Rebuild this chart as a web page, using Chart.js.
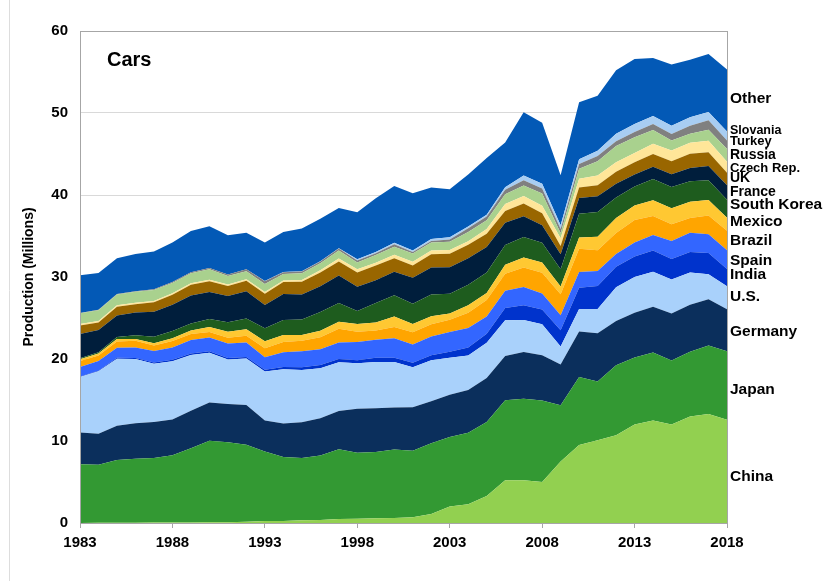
<!DOCTYPE html>
<html>
<head>
<meta charset="utf-8">
<style>
html,body{margin:0;padding:0;background:#fff;}
#wrap{position:relative;width:835px;height:581px;}
canvas{display:block;}
</style>
<script src="https://cdn.jsdelivr.net/npm/chart.js@4.4.1/dist/chart.umd.min.js"></script>
</head>
<body>
<div id="wrap"><canvas id="c" width="835" height="581"></canvas></div>
<script>
// ---------- DATA (millions of cars) ----------
const years = [1983,1984,1985,1986,1987,1988,1989,1990,1991,1992,1993,1994,1995,1996,1997,1998,1999,2000,2001,2002,2003,2004,2005,2006,2007,2008,2009,2010,2011,2012,2013,2014,2015,2016,2017,2018];
const xTickYears = [1983,1988,1993,1998,2003,2008,2013,2018];
const yTicks = [0,10,20,30,40,50,60];

const china   = [0.01,0.02,0.03,0.04,0.05,0.06,0.07,0.08,0.10,0.16,0.23,0.25,0.33,0.38,0.49,0.51,0.57,0.61,0.70,1.10,2.00,2.30,3.30,5.20,5.20,5.00,7.50,9.50,10.10,10.70,12.00,12.50,12.00,13.00,13.30,12.60];
const japan   = [7.15,7.07,7.65,7.81,7.89,8.20,9.05,9.95,9.75,9.38,8.49,7.80,7.61,7.86,8.49,8.06,8.10,8.36,8.12,8.62,8.48,8.72,9.02,9.76,9.94,9.93,6.86,8.31,7.16,8.55,8.19,8.28,7.83,7.87,8.35,8.36];
const germany = [3.88,3.79,4.17,4.31,4.37,4.35,4.56,4.66,4.66,4.86,3.79,4.09,4.36,4.54,4.68,5.35,5.31,5.13,5.30,5.12,5.15,5.19,5.35,5.40,5.71,5.53,4.96,5.55,5.87,5.39,5.44,5.60,5.71,5.75,5.65,5.12];
const us      = [6.78,7.62,8.18,7.83,7.10,7.11,6.82,6.08,5.44,5.67,5.98,6.61,6.35,6.08,5.93,5.55,5.64,5.54,4.88,5.02,4.51,4.23,4.32,4.37,3.92,3.78,2.20,2.73,2.97,4.11,4.37,4.25,4.16,3.93,3.03,2.80];
const india   = [0.05,0.07,0.11,0.13,0.16,0.18,0.18,0.18,0.17,0.16,0.21,0.26,0.33,0.40,0.40,0.39,0.53,0.52,0.55,0.60,0.75,0.95,1.10,1.50,1.80,1.80,2.00,2.60,2.80,2.50,2.50,2.60,2.50,2.50,2.60,2.10];
const spain   = [1.14,1.18,1.23,1.28,1.40,1.50,1.64,1.68,1.77,1.79,1.51,1.82,1.96,1.94,2.01,2.22,2.21,2.37,2.21,2.27,2.40,2.40,2.10,2.08,2.20,1.94,1.81,1.91,1.84,1.54,1.72,1.90,2.20,2.35,2.29,2.27];
const brazil  = [0.75,0.68,0.76,0.82,0.68,0.78,0.73,0.66,0.71,0.82,1.10,1.25,1.30,1.46,1.68,1.25,1.11,1.36,1.50,1.52,1.50,1.86,2.01,2.09,2.39,2.55,2.58,2.83,2.52,2.59,2.74,2.31,2.02,1.78,2.27,2.39];
const mexico  = [0.21,0.24,0.30,0.21,0.28,0.35,0.44,0.61,0.72,0.78,0.84,0.86,0.70,0.80,0.85,0.95,0.99,1.28,1.00,0.96,0.77,0.90,0.85,1.10,1.21,1.24,0.94,1.39,1.66,1.81,1.77,1.92,1.97,1.99,1.90,1.58];
const korea   = [0.12,0.16,0.26,0.46,0.79,0.87,0.85,0.99,1.16,1.31,1.59,1.81,1.89,2.26,2.31,1.58,2.36,2.60,2.47,2.65,2.40,2.50,2.50,2.40,2.50,2.40,2.10,2.90,3.00,2.50,2.30,2.60,2.60,2.50,2.40,2.20];
const france  = [2.96,2.71,2.63,2.77,3.05,3.22,3.41,3.29,3.19,3.33,2.84,3.18,3.05,3.15,3.35,2.95,2.78,2.88,3.18,3.29,3.22,3.23,3.11,2.72,2.55,2.15,1.82,1.92,1.93,1.68,1.46,1.50,1.55,1.63,1.75,1.76];
const uk      = [1.04,0.91,1.05,1.02,1.14,1.23,1.30,1.30,1.24,1.29,1.38,1.47,1.53,1.69,1.70,1.75,1.79,1.64,1.49,1.63,1.66,1.65,1.60,1.44,1.53,1.45,1.00,1.27,1.34,1.46,1.51,1.53,1.59,1.72,1.67,1.52];
const czech   = [0.18,0.18,0.18,0.18,0.17,0.16,0.19,0.19,0.17,0.18,0.22,0.18,0.21,0.26,0.37,0.38,0.35,0.43,0.46,0.44,0.44,0.44,0.60,0.85,0.93,0.93,0.97,1.07,1.19,1.17,1.13,1.25,1.30,1.34,1.41,1.35];
const russia  = [1.32,1.33,1.33,1.33,1.33,1.26,1.22,1.26,1.03,0.96,0.96,0.80,0.83,0.87,0.98,0.84,0.95,0.97,1.02,0.98,1.01,1.11,1.07,1.18,1.29,1.47,0.60,1.21,1.74,1.97,1.92,1.68,1.21,1.12,1.35,1.56];
const turkey  = [0.03,0.05,0.06,0.08,0.11,0.12,0.12,0.17,0.20,0.27,0.35,0.21,0.23,0.21,0.24,0.24,0.22,0.30,0.18,0.20,0.29,0.45,0.45,0.55,0.63,0.62,0.51,0.60,0.64,0.58,0.63,0.73,0.79,0.95,1.14,1.03];
const slovakia= [0.00,0.00,0.00,0.00,0.00,0.00,0.00,0.00,0.00,0.00,0.01,0.01,0.03,0.03,0.04,0.13,0.13,0.18,0.18,0.23,0.28,0.22,0.22,0.30,0.57,0.58,0.46,0.56,0.64,0.93,0.98,0.99,1.00,1.04,1.00,1.09];
const other   = [4.58,4.49,4.36,4.53,4.58,4.81,5.02,5.10,4.79,4.44,4.70,4.90,5.19,5.17,4.88,5.75,6.56,6.93,6.96,6.27,5.84,6.35,6.90,5.46,7.73,7.43,6.09,6.95,6.70,7.72,7.94,7.06,7.47,7.03,7.09,7.57];

const seriesNames = ['China','Japan','Germany','U.S.','India','Spain','Brazil','Mexico','South Korea','France','UK','Czech Rep.','Russia','Turkey','Slovania','Other'];
const seriesValues = [china,japan,germany,us,india,spain,brazil,mexico,korea,france,uk,czech,russia,turkey,slovakia,other];

// right-hand labels: text and anchor value (millions) on the y axis
const labelTexts  = ['Other','Slovania','Turkey','Russia','Czech Rep.','UK','France','South Korea','Mexico','Brazil','Spain','India','U.S.','Germany','Japan','China'];
const labelValues = [51.7,47.8,46.5,44.8,43.3,42.0,40.3,38.8,36.8,34.4,32.0,30.3,27.6,23.3,16.2,5.6];

// ---------- STYLE ----------
const colors = ['#92D050','#339933','#0B2F5C','#A9D1FB','#0033CC','#3366FF','#FFA500','#FFC832','#1E5C1E','#001E3C','#996600','#FFE699','#A9D18E','#808080','#A8CDF2','#0359B6'];
const labelSizes = [15.5,12.5,13,14,13,14,14,15.5,15.5,15.5,15.5,15.5,15.5,15.5,15.5,15.5];
const FONT = "'Liberation Sans', Arial, sans-serif";

const datasets = seriesValues.map((vals, i) => ({
  label: seriesNames[i],
  data: vals.map((v, j) => ({x: years[j], y: v})),
  backgroundColor: colors[i],
  borderColor: colors[i],
  borderWidth: 0,
  pointRadius: 0,
  tension: 0,
  fill: i === 0 ? 'origin' : '-1'
}));

const overlay = {
  id: 'overlay',
  afterDraw(chart) {
    const {ctx, chartArea} = chart;
    const ys = chart.scales.y;
    ctx.save();
    // faint slide frame on the left
    ctx.strokeStyle = '#DDDDDD';
    ctx.lineWidth = 1;
    ctx.beginPath();
    ctx.moveTo(9.5, 0); ctx.lineTo(9.5, chart.height);
    ctx.stroke();
    // plot frame
    ctx.strokeStyle = '#A6A6A6';
    ctx.strokeRect(Math.round(chartArea.left) + 0.5, Math.round(chartArea.top) + 0.5,
                   Math.round(chartArea.right - chartArea.left), Math.round(chartArea.bottom - chartArea.top));
    // title inside plot
    ctx.fillStyle = '#000';
    ctx.font = 'bold 20px ' + FONT;
    ctx.textBaseline = 'middle';
    ctx.textAlign = 'left';
    ctx.fillText('Cars', chartArea.left + 27, chartArea.top + 29);
    // series labels on the right
    labelTexts.forEach((t, i) => {
      ctx.font = 'bold ' + labelSizes[i] + 'px ' + FONT;
      ctx.fillText(t, chartArea.right + 3, ys.getPixelForValue(labelValues[i]));
    });
    ctx.restore();
  }
};

new Chart(document.getElementById('c'), {
  type: 'line',
  data: { datasets },
  plugins: [overlay],
  options: {
    responsive: false,
    animation: false,
    events: [],
    layout: { padding: { left: 0, right: 108, top: 31, bottom: 0 } },
    plugins: { legend: { display: false }, tooltip: { enabled: false } },
    scales: {
      x: {
        type: 'linear',
        min: years[0],
        max: years[years.length - 1],
        afterBuildTicks: s => { s.ticks = xTickYears.map(v => ({ value: v })); },
        afterFit: s => { s.height = 58; },
        grid: { drawOnChartArea: false, drawTicks: true, tickLength: 5, color: '#A6A6A6' },
        border: { display: true, color: '#A6A6A6' },
        ticks: { autoSkip: false, maxRotation: 0, padding: 6, color: '#000',
                 font: { family: FONT, size: 15, weight: 'bold' },
                 callback: v => String(v) }
      },
      y: {
        stacked: true,
        min: yTicks[0],
        max: yTicks[yTicks.length - 1],
        afterBuildTicks: s => { s.ticks = yTicks.map(v => ({ value: v })); },
        afterFit: s => { s.width = 80; },
        grid: { color: '#D9D9D9', drawTicks: false },
        border: { display: true, color: '#A6A6A6' },
        ticks: { padding: 12, color: '#000', font: { family: FONT, size: 15, weight: 'bold' } },
        title: { display: true, text: 'Production (Millions)', color: '#000',
                 font: { family: FONT, size: 14, weight: 'bold' }, padding: { top: 21, bottom: 0 } }
      }
    }
  }
});
</script>
</body>
</html>
